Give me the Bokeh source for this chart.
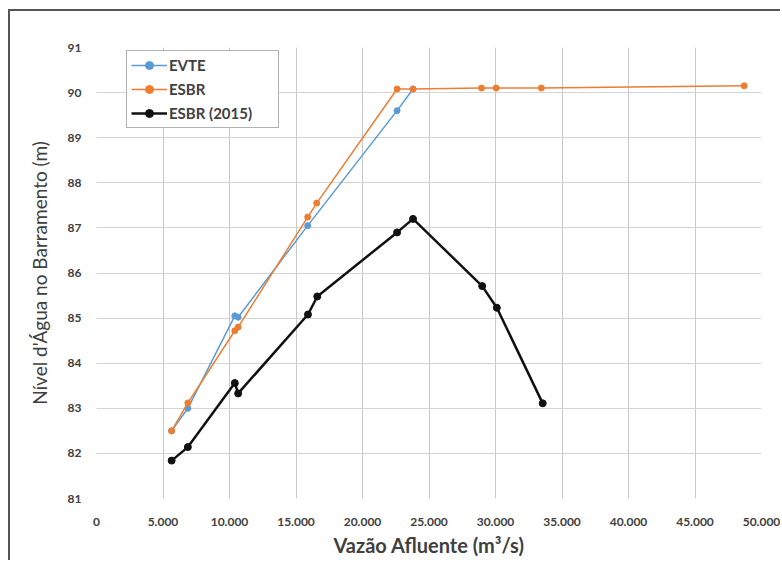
from bokeh.plotting import figure
from bokeh.models import Legend, LegendItem, FixedTicker, Range1d
from bokeh.embed import file_html
from bokeh.resources import INLINE

# Data
evte_x = [5650, 6870, 10400, 10650, 15880, 22600, 23800]
evte_y = [82.50, 83.00, 85.05, 85.02, 87.05, 89.60, 90.08]

esbr_x = [5650, 6870, 10400, 10650, 15880, 16560, 22600, 23800, 28950, 30050, 33450, 48700]
esbr_y = [82.50, 83.12, 84.72, 84.80, 87.24, 87.55, 90.08, 90.08, 90.10, 90.10, 90.10, 90.15]

esbr15_x = [5650, 6870, 10400, 10650, 15900, 16600, 22600, 23800, 29000, 30100, 33550]
esbr15_y = [81.84, 82.14, 83.56, 83.33, 85.08, 85.48, 86.90, 87.20, 85.71, 85.23, 83.11]

x_ticks = [0, 5000, 10000, 15000, 20000, 25000, 30000, 35000, 40000, 45000, 50000]
x_tick_labels = ["0", "5.000", "10.000", "15.000", "20.000", "25.000", "30.000",
                 "35.000", "40.000", "45.000", "50.000"]
y_ticks = [81, 82, 83, 84, 85, 86, 87, 88, 89, 90, 91]

FONT = "Lato"
TXT = "#404040"

p = figure(width=772, height=551, output_backend="svg", toolbar_location=None,
           x_range=Range1d(0, 50000), y_range=Range1d(81, 91),
           min_border_left=86, min_border_right=21, min_border_top=36, min_border_bottom=64)
p.styles = {"border-left": "2px solid #555555", "border-top": "2px solid #555555",
            "margin-left": "8px", "margin-top": "9px"}
p.outline_line_color = None
p.background_fill_color = "white"

for ax in (p.xaxis[0], p.yaxis[0]):
    ax.axis_line_color = None
    ax.major_tick_line_color = None
    ax.minor_tick_line_color = None
    ax.major_label_text_font = FONT
    ax.major_label_text_font_size = "12px"
    ax.major_label_text_color = TXT
    ax.major_label_text_font_style = "bold"
    ax.axis_label_text_font = FONT
    ax.axis_label_text_color = TXT

p.xaxis.ticker = FixedTicker(ticks=x_ticks)
p.xaxis.major_label_overrides = {t: l for t, l in zip(x_ticks, x_tick_labels)}
p.xaxis.major_label_standoff = 13
p.xaxis.axis_label = "Vazão Afluente (m³/s)"
p.xaxis.axis_label_text_font_size = "20px"
p.xaxis.axis_label_text_font_style = "bold"
p.xaxis.axis_label_standoff = 4

p.yaxis.ticker = FixedTicker(ticks=y_ticks)
p.yaxis.major_label_standoff = 9
p.yaxis.axis_label = "Nível d'Água no Barramento (m)"
p.yaxis.axis_label_text_font_size = "19px"
p.yaxis.axis_label_text_font_style = "normal"
p.yaxis.axis_label_standoff = 14

p.xgrid.ticker = FixedTicker(ticks=x_ticks)
p.ygrid.ticker = FixedTicker(ticks=y_ticks)
p.xgrid.grid_line_color = "#c8c8c8"
p.ygrid.grid_line_color = "#d4d4d4"

l1 = p.line(evte_x, evte_y, line_color="#5b9bd5", line_width=1.5)
s1 = p.scatter(evte_x, evte_y, size=6, fill_color="#5b9bd5", line_color="#5b9bd5")
l2 = p.line(esbr_x, esbr_y, line_color="#ed7d31", line_width=1.5)
s2 = p.scatter(esbr_x, esbr_y, size=6, fill_color="#ed7d31", line_color="#ed7d31")
l3 = p.line(esbr15_x, esbr15_y, line_color="#111111", line_width=2.5)
s3 = p.scatter(esbr15_x, esbr15_y, size=7, fill_color="#111111", line_color="#111111")

legend = Legend(items=[
    LegendItem(label="EVTE", renderers=[l1, s1]),
    LegendItem(label="ESBR", renderers=[l2, s2]),
    LegendItem(label="ESBR (2015)", renderers=[l3, s3]),
])
legend.label_text_font = FONT
legend.label_text_font_size = "15px"
legend.label_text_color = TXT
legend.label_text_font_style = "bold"
legend.border_line_color = "#666666"
legend.border_line_width = 1
legend.background_fill_alpha = 1
legend.glyph_width = 36
legend.glyph_height = 20
legend.label_height = 20
legend.label_width = 105
legend.spacing = 4
legend.padding = 4
legend.margin = 0
legend.label_standoff = 2
legend.location = (30, 451 - 5 - 76)
p.add_layout(legend)

open("out.html", "w").write(file_html(p, INLINE))
